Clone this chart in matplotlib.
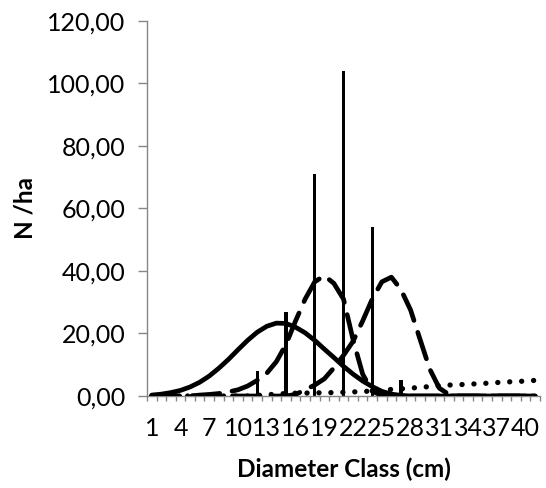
import matplotlib
matplotlib.use("Agg")
import matplotlib.pyplot as plt

# diameter classes (cm) and the curves
classes = list(range(1, 42))

obs_class = [12, 15, 18, 21, 24, 27]
obs_n = [8.0, 27.0, 71.0, 104.0, 54.0, 5.0]

normal_fit = [0.3, 0.6, 1.1, 1.8, 2.9, 4.4, 6.4, 8.9, 11.7, 14.8,
              17.8, 20.4, 22.3, 23.3, 23.2, 22.0, 20.2, 17.8, 15.0, 12.3,
              9.5, 7.0, 4.8, 3.0, 1.5, 0.6, 0.2, 0, 0, 0,
              0, 0, 0, 0, 0, 0, 0, 0, 0, 0, 0]

fit_a = [0, 0, 0, 0, 0, 0.3, 0.5, 0.8, 1.3, 2.0,
         3.2, 5.0, 7.3, 11.0, 16.5, 24.0, 31.0, 36.5, 38.5, 36.0,
         31.0, 18.0, 7.0, 1.5, 0.2, 0, 0, 0, 0, 0,
         0, 0, 0, 0, 0, 0, 0, 0, 0, 0, 0]

fit_b = [0, 0, 0, 0, 0, 0, 0, 0, 0, 0,
         0, 0, 0, 0, 0, 0.5, 2.0, 3.5, 5.5, 9.0,
         13.0, 17.5, 24.0, 31.0, 36.5, 38.0, 34.0, 27.5, 18.0, 8.6,
         2.5, 0.5, 0, 0, 0, 0, 0, 0, 0, 0, 0]

fit_c = [0, 0, 0, 0, 0, 0, 0, 0, 0, 0,
         0, 0.2, 0.4, 0.6, 0.8, 0.9, 0.95, 1.0, 1.05, 1.1,
         1.2, 1.3, 1.45, 1.6, 1.9, 2.1, 2.3, 2.5, 2.8, 3.0,
         3.3, 3.5, 3.6, 3.8, 3.9, 4.1, 4.3, 4.5, 4.6, 4.8, 5.0]

yticks = [0, 20, 40, 60, 80, 100, 120]
ytick_labels = ["0,00", "20,00", "40,00", "60,00", "80,00", "100,00", "120,00"]
xticks = list(range(1, 41, 3))

plt.rcParams["font.family"] = ["Lato", "DejaVu Sans"]
plt.rcParams["lines.scale_dashes"] = False

fig = plt.figure(figsize=(5.46, 4.88), dpi=100)
ax = fig.add_axes([0.2692, 0.1885, 0.7198, 0.7691])

ax.bar(obs_class, obs_n, width=0.32, color="black", zorder=1)

ax.plot(classes, normal_fit, color="black", lw=3.4, solid_capstyle="round",
        solid_joinstyle="round", zorder=3)
ax.plot(classes, fit_a, color="black", lw=3.4, dashes=(20, 9),
        dash_capstyle="round", zorder=3)
ax.plot(classes, fit_b, color="black", lw=3.4, dashes=(20, 9),
        dash_capstyle="round", zorder=3)
ax.plot(classes, fit_c, color="black", lw=3.8, dashes=(0.1, 8.5),
        dash_capstyle="round", zorder=3)

ax.set_xlim(0.5, 41.5)
ax.set_ylim(0, 120)

ax.set_yticks(yticks)
ax.set_yticklabels(ytick_labels)
ax.set_xticks(xticks)
ax.set_xticks([c - 0.5 for c in classes] + [41.5], minor=True)

for s in ["top", "right"]:
    ax.spines[s].set_visible(False)
ax.spines["left"].set_color("#868686")
ax.spines["bottom"].set_color("#868686")
ax.spines["left"].set_linewidth(1.0)
ax.spines["bottom"].set_linewidth(1.0)

ax.tick_params(axis="y", length=6.5, width=1.0, color="#868686", pad=9,
               labelsize=18, labelcolor="black")
ax.tick_params(axis="x", which="major", length=0, pad=15, labelsize=18)
ax.tick_params(axis="x", which="minor", length=3.8, width=1.0, color="#868686")

ax.set_xlabel("Diameter Class (cm)", fontsize=17.5, fontweight="bold", labelpad=13)
ax.set_ylabel("N /ha", fontsize=17.5, fontweight="bold", labelpad=8)

fig.savefig("out.png", dpi=100)
